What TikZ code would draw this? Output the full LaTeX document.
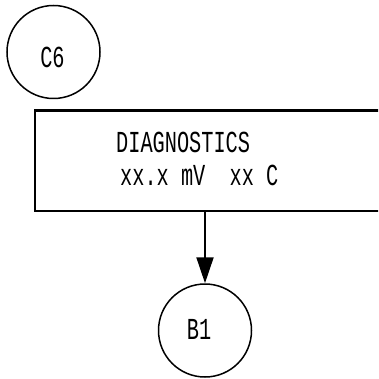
\documentclass[tikz,border=0pt]{standalone}
\usepackage{fontspec}
\usetikzlibrary{arrows.meta}
\newfontfamily\lcdfont[FakeStretch=0.665]{Liberation Mono}
\tikzset{
  conn/.style={circle, draw=black, line width=1.5pt, minimum size=93pt, inner sep=0pt},
  txt/.style={inner sep=0pt, font=\lcdfont\fontsize{30.5}{33}\selectfont},
  panel/.style={rectangle, draw=black, line width=2.5pt, minimum width=360pt, minimum height=100pt, inner sep=0pt},
  flow/.style={line width=2pt, -{Triangle[length=26pt,width=17pt]}}
}
\begin{document}
\begin{tikzpicture}[x=1pt,y=-1pt]
\useasboundingbox (0,0) rectangle (378,379);
\clip (0,0) rectangle (378,379);
\node[conn, label={[txt,xshift=-1pt,yshift=-5pt]center:C6}] (c6) at (53.5,52) {};
\node[panel] (box) at (215,109.5) [anchor=north] {};
\node[txt, anchor=base west] (l1) at (116,153) {DIAGNOSTICS};
\node[txt, anchor=base west] (l2) at (120,185) {xx.x mV\ \ xx C};
\node[conn, label={[txt,xshift=-6pt,yshift=1pt]center:B1}] (b1) at (205,330.5) {};
\draw[flow] (box.south -| b1.north) -- (b1.north);
\end{tikzpicture}
\end{document}
